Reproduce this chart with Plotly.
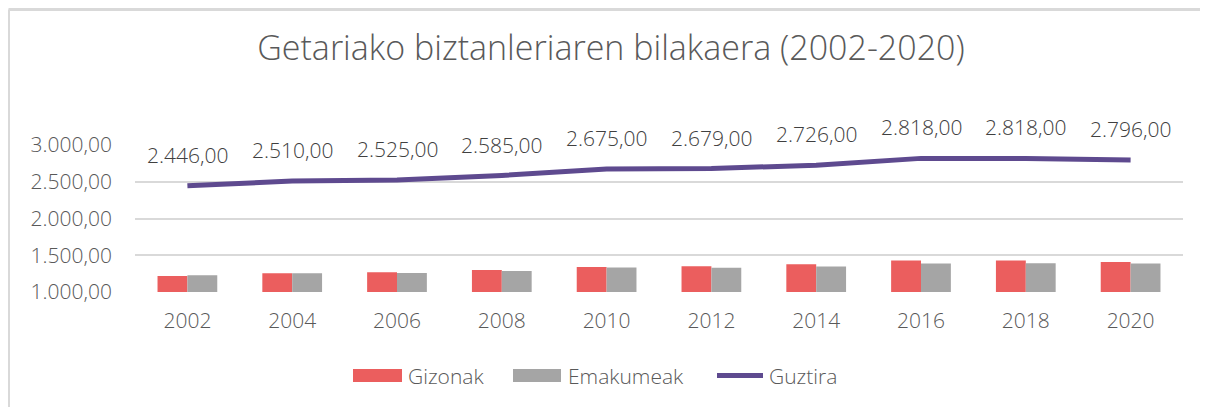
import plotly.graph_objects as go

years = ["2002", "2004", "2006", "2008", "2010", "2012", "2014", "2016", "2018", "2020"]
gizonak = [1218, 1255, 1268, 1298, 1340, 1350, 1378, 1430, 1428, 1408]
emakumeak = [1228, 1255, 1257, 1287, 1335, 1329, 1348, 1388, 1390, 1388]
guztira = [2446, 2510, 2525, 2585, 2675, 2679, 2726, 2818, 2818, 2796]
y_ticks = [1000, 1500, 2000, 2500, 3000]
series_names = ["Gizonak", "Emakumeak", "Guztira"]
series_colors = ["#EB5E5E", "#A5A5A5", "#5E4A8F"]

OFF = 8  # page offset of the figure inside the window
W, H = 1200, 399
# plot area in window pixels: left 135, right 1183, top 145, bottom 292
L, T = 135 - OFF, 145 - OFF
R, B = W - (1183 - OFF), H - (292 - OFF)
pw, ph = W - L - R, H - T - B

font_fam = "Open Sans, Noto Sans, sans-serif"
txt_col = "#595959"
fs = 21


def px_x(px):  # window px -> paper
    return (px - OFF - L) / pw


def px_y(py):
    return (H - B - (py - OFF)) / ph


def fmt(v):
    s = f"{v:,.2f}"
    return s.replace(",", "X").replace(".", ",").replace("X", ".")


fig = go.Figure()
fig.add_trace(go.Bar(x=years, y=gizonak, name=series_names[0], marker_color=series_colors[0],
                     marker_line_width=0, showlegend=False))
fig.add_trace(go.Bar(x=years, y=emakumeak, name=series_names[1], marker_color=series_colors[1],
                     marker_line_width=0, showlegend=False))
fig.add_trace(go.Scatter(x=years, y=guztira, name=series_names[2], mode="lines",
                         line=dict(color=series_colors[2], width=5), cliponaxis=False,
                         showlegend=False))

for i, v in enumerate(guztira):
    fig.add_annotation(x=i, y=v, text=fmt(v), showarrow=False, yshift=31,
                       font=dict(family=font_fam, size=fs, color="#404040", weight=300))

# custom legend (wide symbols as in the reference)
leg_y = 375.5
leg_items = [(353, 402, 406), (513, 561, 566), (715, 765, 767)]
for (x0, x1, tx), name, col, kind in zip(leg_items, series_names, series_colors,
                                         ["rect", "rect", "line"]):
    if kind == "rect":
        fig.add_shape(type="rect", xref="paper", yref="paper",
                      x0=px_x(x0), x1=px_x(x1), y0=px_y(leg_y - 6.5), y1=px_y(leg_y + 6.5),
                      fillcolor=col, line_width=0)
    else:
        fig.add_shape(type="line", xref="paper", yref="paper",
                      x0=px_x(x0 + 2), x1=px_x(x1 - 2), y0=px_y(leg_y), y1=px_y(leg_y),
                      line=dict(color=col, width=5))
    fig.add_annotation(xref="paper", yref="paper", x=px_x(tx), y=px_y(leg_y),
                       xanchor="left", yanchor="middle", text=name, showarrow=False,
                       font=dict(family=font_fam, size=fs, color=txt_col, weight=300))

# chart border (top + left visible)
fig.add_shape(type="line", xref="paper", yref="paper", x0=px_x(8.5), x1=px_x(1215),
              y0=px_y(9.5), y1=px_y(9.5), line=dict(color="#D9D9D9", width=3))
fig.add_shape(type="line", xref="paper", yref="paper", x0=px_x(8.5), x1=px_x(8.5),
              y0=px_y(9.5), y1=px_y(420), line=dict(color="#D9D9D9", width=3))

fig.update_layout(
    width=W, height=H,
    margin=dict(l=L, r=R, t=T, b=B),
    paper_bgcolor="white", plot_bgcolor="white",
    separators=",.",
    barmode="group", bargap=0.43, bargroupgap=0,
    showlegend=False,
    title=dict(text="Getariako biztanleriaren bilakaera (2002-2020)",
               x=px_x(611), xref="paper", xanchor="center",
               y=1 - (48 - OFF) / H, yanchor="middle",
               font=dict(family=font_fam, size=34, color=txt_col, weight=300)),
    font=dict(family=font_fam, color=txt_col),
)
fig.update_xaxes(type="category", range=[-0.5, len(years) - 0.5],
                 showgrid=False, showline=False, ticks="",
                 tickfont=dict(family=font_fam, size=fs, color=txt_col, weight=300),
                 ticklabelstandoff=14)
fig.update_yaxes(range=[1000, 3000], tickvals=y_ticks, tickformat=",.2f",
                 showgrid=True, gridcolor="#D9D9D9", gridwidth=1.5,
                 zeroline=False, showline=False, ticks="",
                 tickfont=dict(family=font_fam, size=fs, color=txt_col, weight=300),
                 ticklabelstandoff=22)

fig.write_html("out.html")
